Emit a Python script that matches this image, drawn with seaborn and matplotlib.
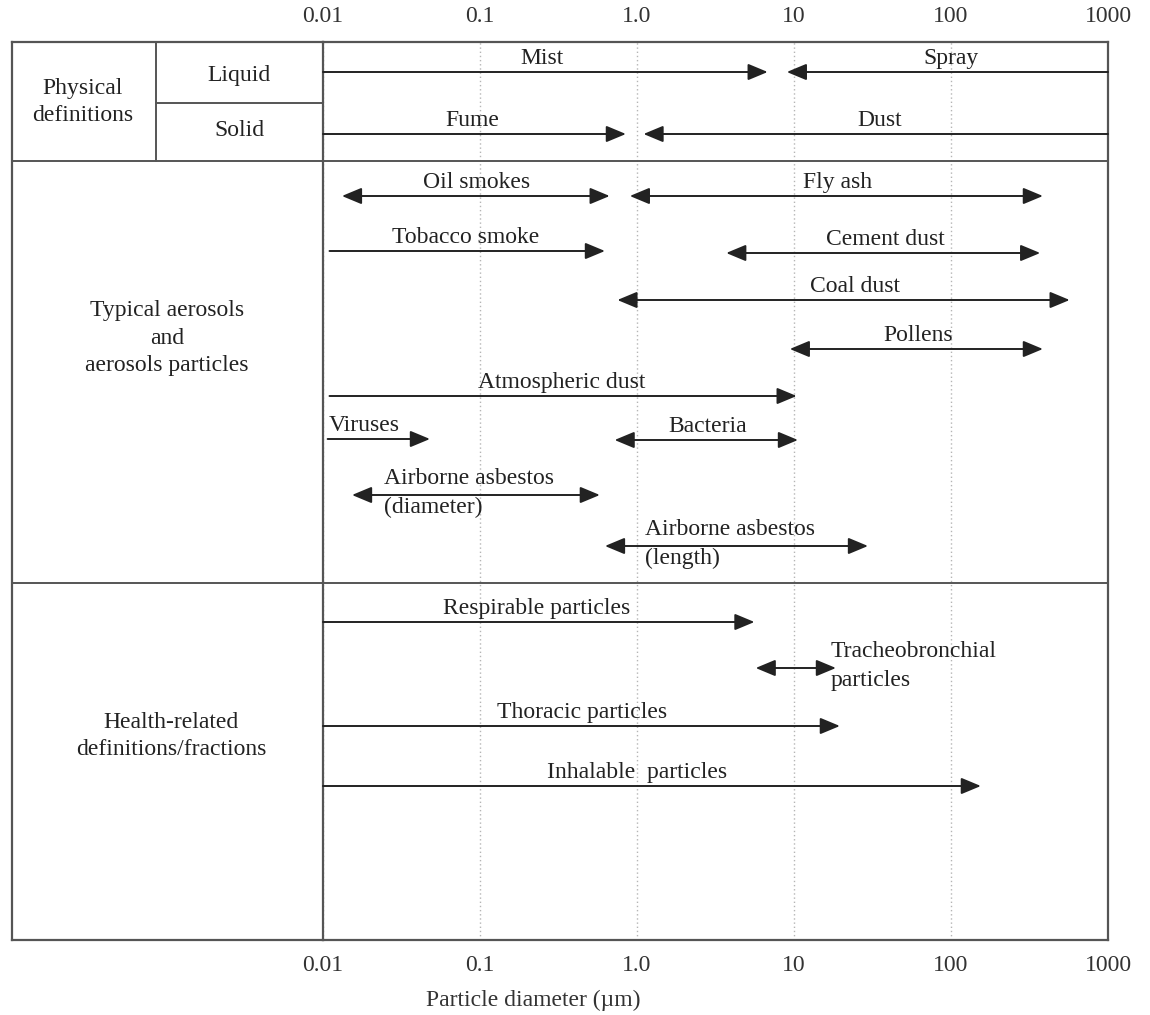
import matplotlib
matplotlib.use("Agg")
import matplotlib.pyplot as plt
from matplotlib.ticker import NullLocator
import seaborn as sns

# particle size ranges in um
names = ["Mist", "Spray", "Fume", "Dust",
         "Oil smokes", "Fly ash", "Tobacco smoke", "Cement dust", "Coal dust",
         "Pollens", "Atmospheric dust", "Viruses", "Bacteria",
         "Airborne asbestos\n(diameter)", "Airborne asbestos\n(length)",
         "Respirable particles", "Tracheobronchial\nparticles",
         "Thoracic particles", "Inhalable  particles"]
low = [0.01, 9.0, 0.01, 1.1,
       0.0132, 0.9, 0.011, 3.7, 0.75,
       9.4, 0.011, 0.0107, 0.72,
       0.0153, 0.625,
       0.01, 5.7,
       0.01, 0.01]
high = [6.8, 1000, 0.85, 1000,
        0.67, 385, 0.625, 370, 570,
        385, 10.4, 0.048, 10.6,
        0.58, 29.6,
        5.6, 18.5,
        19.6, 155]
# which ends carry an arrow head
heads = ["->", "<-", "->", "<-",
         "<->", "<->", "->", "<->", "<->",
         "<->", "->", "->", "<->",
         "<->", "<->",
         "->", "<->",
         "->", "->"]

tick_vals = [0.01, 0.1, 1.0, 10, 100, 1000]
tick_labels = ["0.01", "0.1", "1.0", "10", "100", "1000"]

# layout (pixel rows in the figure, label anchor in um)
row_y = [72, 72, 134, 134,
         196, 196, 251, 253, 300,
         349, 396, 439, 440,
         495, 546,
         622, 668,
         726, 786]
label_x = [0.25, 100, 0.089, 35,
           0.095, 19, 0.081, 38, 24.5,
           62, 0.33, 0.0108, 2.8,
           0.0245, 1.12,
           0.23, 17.2,
           0.45, 1.0]
label_mode = ["top", "top", "top", "top",
              "top", "top", "top", "top", "top",
              "top", "top", "topleft", "top",
              "side", "side",
              "top", "side",
              "top", "top"]

sns.set_theme(style="white")
plt.rcParams["font.family"] = ["Liberation Serif", "DejaVu Serif"]

W, H = 1150, 1015
fig = plt.figure(figsize=(W / 100, H / 100), dpi=100)


def box(x0, y0, x1, y1):
    return [x0 / W, 1 - y1 / H, (x1 - x0) / W, (y1 - y0) / H]


tab = fig.add_axes(box(12, 42, 323, 940))
ax = fig.add_axes(box(323, 42, 1108, 940))
ax.patch.set_visible(False)

frame = "#555555"
ink = "#222222"
fs = 17

# main chart
ax.set_xscale("log")
ax.set_xlim(0.01, 1000)
ax.set_ylim(940, 42)
ax.xaxis.set_minor_locator(NullLocator())
ax.set_xticks(tick_vals)
ax.set_xticklabels(tick_labels)
ax.set_yticks([])
ax.tick_params(axis="x", top=True, labeltop=True, bottom=True, labelbottom=True,
               length=0, pad=11, labelsize=fs, labelcolor="#333333")
ax.grid(axis="x", which="major", linestyle=(0, (1, 2)), color="#b5b5b5", linewidth=1)
ax.set_axisbelow(True)
for s in ax.spines.values():
    s.set_color(frame)
    s.set_linewidth(1.6)
ax.axhline(161, color=frame, lw=1.4)
ax.axhline(583, color=frame, lw=1.4)

styles = {"->": "-|>", "<-": "<|-", "<->": "<|-|>"}
for i, name in enumerate(names):
    y = row_y[i]
    ax.annotate("", xy=(high[i], y), xytext=(low[i], y),
                arrowprops=dict(arrowstyle=styles[heads[i]] + ",head_length=0.6,head_width=0.25",
                                color=ink, lw=1.4, shrinkA=0, shrinkB=0,
                                mutation_scale=20))
    if label_mode[i] == "top":
        ax.text(label_x[i], y - 3, name, ha="center", va="bottom", fontsize=fs, color=ink)
    elif label_mode[i] == "topleft":
        ax.text(label_x[i], y - 3, name, ha="left", va="bottom", fontsize=fs, color=ink)
    else:
        ax.text(label_x[i], y - 2, name, ha="left", va="center", fontsize=fs,
                color=ink, linespacing=1.45)

ax.text((533 - 323) / 785, (940 - 1000) / 898, "Particle diameter (\u00b5m)",
        transform=ax.transAxes, ha="center", va="center", fontsize=fs, color="#333333")

# left-hand table
tab.set_xlim(12, 323)
tab.set_ylim(940, 42)
tab.set_xticks([])
tab.set_yticks([])
for k, s in tab.spines.items():
    s.set_color(frame)
    s.set_linewidth(1.6)
tab.spines["right"].set_visible(False)
tab.axhline(161, color=frame, lw=1.4)
tab.axhline(583, color=frame, lw=1.4)
tab.plot([156, 156], [42, 161], color=frame, lw=1.4)
tab.plot([156, 323], [103, 103], color=frame, lw=1.4)

tab.text(83, 102, "Physical\ndefinitions", ha="center", va="center", fontsize=fs,
         color=ink, linespacing=1.35)
tab.text(239, 75, "Liquid", ha="center", va="center", fontsize=fs, color=ink)
tab.text(239, 131, "Solid", ha="center", va="center", fontsize=fs, color=ink)
tab.text(167, 338, "Typical aerosols\nand\naerosols particles", ha="center",
         va="center", fontsize=fs, color=ink, linespacing=1.4)
tab.text(171, 736, "Health-related\ndefinitions/fractions", ha="center",
         va="center", fontsize=fs, color=ink, linespacing=1.35)

fig.savefig("out.png", dpi=100)
